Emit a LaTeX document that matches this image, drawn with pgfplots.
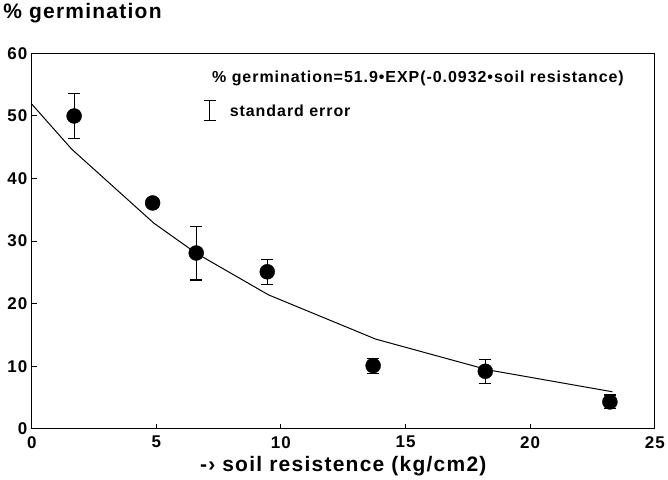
\documentclass[border=0pt]{standalone}
\usepackage{fontspec}
\setmainfont{Liberation Sans}[LetterSpace=6]
\usepackage{pgfplots}
\pgfplotsset{compat=1.18}
\begin{document}
\begin{tikzpicture}
\begin{axis}[
  scale only axis, width=624bp, height=376bp,
  xmin=0, xmax=25, ymin=0, ymax=60,
  xtick={0,5,10,15,20,25}, ytick={0,10,20,30,40,50,60},
  tick align=inside, xtick pos=bottom, ytick pos=left,
  major tick length=5bp,
  axis line style={line width=1.3bp},
  tick style={line width=1bp, black},
  /pgf/number format/assume math mode=true,
  ticklabel style={font=\fontsize{17bp}{19bp}\selectfont\bfseries},
  xticklabel style={yshift=-4bp},
  yticklabel style={xshift=-1bp},
  xlabel={-› soil resistence (kg/cm2)},
  xlabel style={font=\fontsize{21bp}{23bp}\selectfont\bfseries, yshift=-1bp},
  ylabel={\% germination},
  ylabel style={rotate=-90, at={(axis description cs:0,1)}, anchor=south west,
    xshift=-32bp, yshift=27bp, font=\fontsize{21bp}{23bp}\selectfont\bfseries},
  legend style={at={(axis cs:6.75,50.8)}, anchor=west, draw=none, fill=none,
    font=\fontsize{16bp}{18bp}\selectfont\bfseries},
]
% fitted curve
\addplot[black, line width=1bp, forget plot] coordinates {
  (0,51.9) (1.6,44.71) (4.9,32.87) (6.6,28.06) (9.5,21.41) (13.8,14.34) (18.3,9.43) (23.3,5.92)
};
% data with standard errors
\addplot[only marks, mark=*, mark size=7.5bp, black,
  error bars/.cd, y dir=both, y explicit,
  error bar style={line width=1.2bp, black},
  error mark options={rotate=90, mark size=6bp, line width=1.2bp, black},
  ] coordinates {
  (1.7,50.0) +- (0,3.6)
  (4.85,36.1) +- (0,0.7)
  (6.6,28.1) +- (0,4.3)
  (9.45,25.1) +- (0,2.0)
  (13.7,10.1) +- (0,1.2)
  (18.2,9.2) +- (0,1.9)
  (23.2,4.3) +- (0,1.1)
};
\addlegendimage{legend image code/.code={
  \draw[line width=1bp] (6bp,-10bp)--(6bp,10bp) (0bp,-10bp)--(12bp,-10bp) (0bp,10bp)--(12bp,10bp);
  \path (0bp,0bp) (24bp,0bp);}}
\legend{,standard error}
\node[anchor=west, font=\fontsize{16bp}{18bp}\selectfont\bfseries] at (axis cs:7.1,56.0)
  {\% germination=51.9•EXP(-0.0932•soil resistance)};
\end{axis}
\end{tikzpicture}
\end{document}
